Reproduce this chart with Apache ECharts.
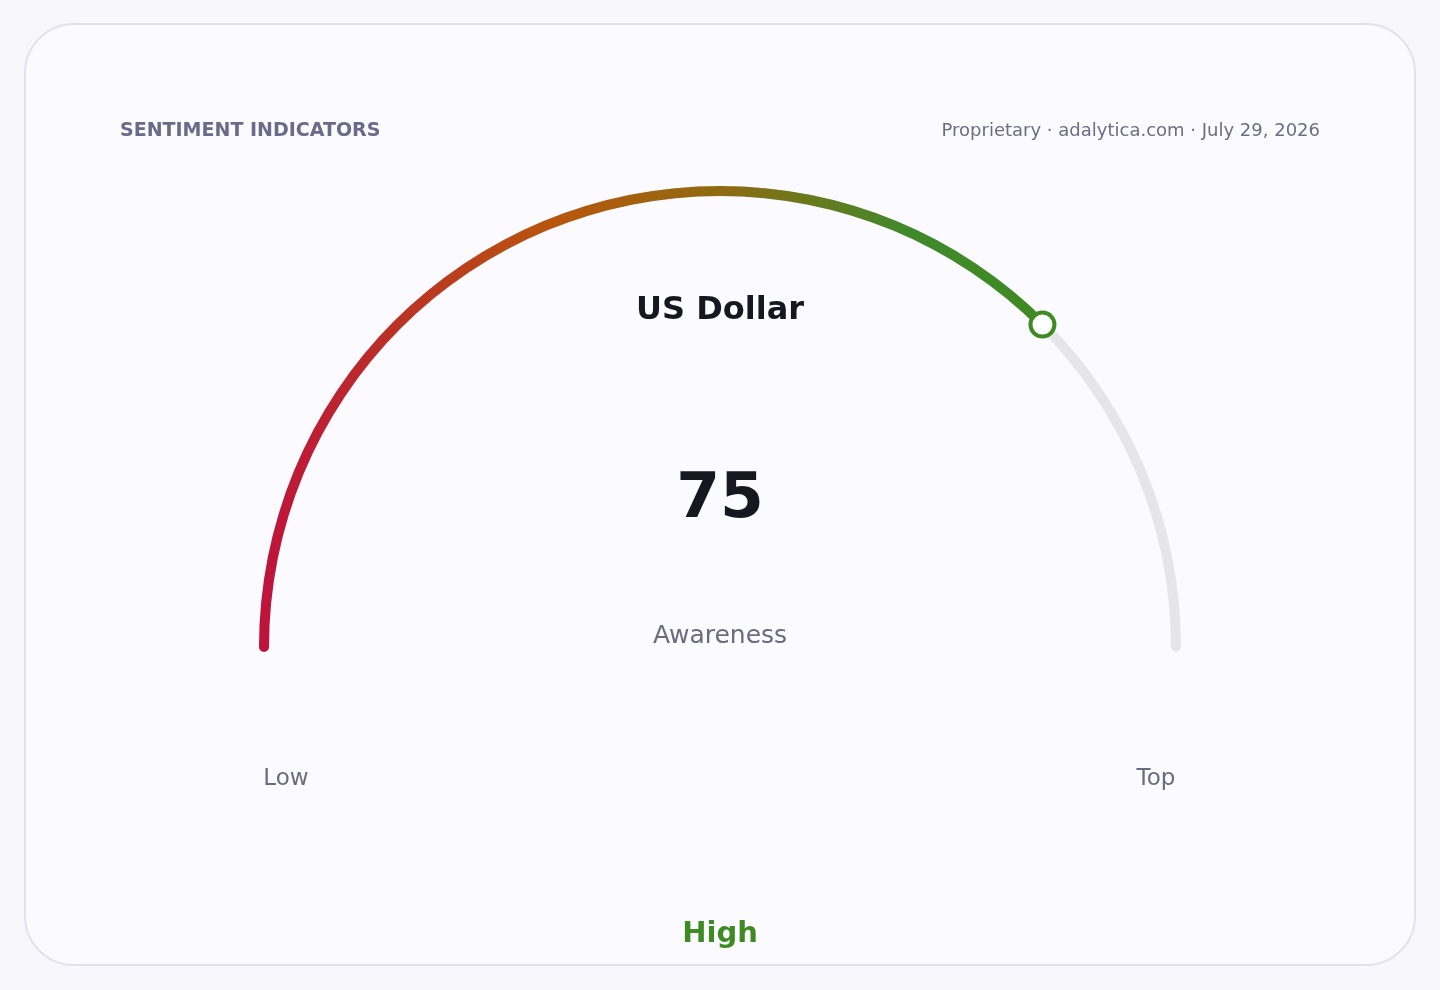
<!DOCTYPE html>
<html>
<head>
<meta charset="utf-8">
<script src="https://cdn.jsdelivr.net/npm/echarts@6/dist/echarts.min.js"></script>
<style>
  html, body { margin: 0; padding: 0; width: 1440px; height: 990px; background: #f7f7fc; overflow: hidden; }
  #card { position: absolute; left: 24px; top: 23px; width: 1388px; height: 939px; border: 2px solid #e2e2ef; border-radius: 50px; background: #fafaff; }
  #chart { position: absolute; left: 0; top: 0; width: 1440px; height: 990px; }
</style>
</head>
<body>
<div id="card"></div>
<div id="chart"></div>
<script>
const headerLeft = 'SENTIMENT INDICATORS';
const headerRight = 'Proprietary · adalytica.com · July 29, 2026';
const assetName = 'US Dollar';
const metricName = 'Awareness';
const metricValue = 75;
const scaleMin = 0;
const scaleMax = 100;
const endLabels = ['Low', 'Top'];
const verdict = 'High';

const FONT = '"DejaVu Sans", sans-serif';
const GREEN = '#3f8a22';
const cx = 720, cy = 647, R = 461, W = 10;

const chart = echarts.init(document.getElementById('chart'), null, { renderer: 'canvas' });

const grad = new echarts.graphic.LinearGradient(259, 0, 1047, 0, [
  { offset: 0, color: '#be123c' },
  { offset: 0.38, color: '#b8570c' },
  { offset: 0.6, color: '#8b6c12' },
  { offset: 0.82, color: '#40892a' },
  { offset: 1, color: GREEN }
], true);

const baseGauge = {
  type: 'gauge',
  center: [cx, cy],
  radius: R,
  startAngle: 180,
  endAngle: 0,
  min: scaleMin,
  max: scaleMax,
  splitLine: { show: false },
  axisTick: { show: false },
  axisLabel: { show: false },
  anchor: { show: false }
};

chart.setOption({
  backgroundColor: 'transparent',
  animation: false,
  graphic: [
    { type: 'text', left: 120, top: 122, style: { text: headerLeft, font: 'bold 19px ' + FONT, fill: '#6b6a88' } },
    { type: 'text', right: 120, top: 122, style: { text: headerRight, font: '18px ' + FONT, fill: '#6d6d85' } },
    { type: 'text', x: cx, y: 311, style: { text: assetName, font: 'bold 32px ' + FONT, fill: '#17171f', align: 'center', verticalAlign: 'middle' } },
    { type: 'text', x: 286, y: 779, style: { text: endLabels[0], font: '23px ' + FONT, fill: '#6b6b80', align: 'center', verticalAlign: 'middle' } },
    { type: 'text', x: 1156, y: 779, style: { text: endLabels[1], font: '23px ' + FONT, fill: '#6b6b80', align: 'center', verticalAlign: 'middle' } },
    { type: 'text', x: cx, y: 934, style: { text: verdict, font: 'bold 29px ' + FONT, fill: GREEN, align: 'center', verticalAlign: 'middle' } }
  ],
  series: [
    Object.assign({}, baseGauge, {
      z: 2,
      axisLine: { roundCap: true, lineStyle: { width: W, color: [[1, '#e6e6ea']] } },
      progress: { show: true, width: W, roundCap: true, itemStyle: { color: grad } },
      pointer: { show: false },
      title: {
        show: true,
        offsetCenter: [0, -11],
        fontFamily: FONT,
        fontSize: 25,
        color: '#6b6b80'
      },
      detail: {
        show: true,
        offsetCenter: [0, -146],
        fontFamily: FONT,
        fontSize: 63,
        fontWeight: 'bold',
        color: '#17171f',
        formatter: '{value}'
      },
      data: [{ value: metricValue, name: metricName }]
    }),
    Object.assign({}, baseGauge, {
      z: 5,
      axisLine: { show: false },
      progress: { show: false },
      pointer: {
        show: true,
        icon: 'circle',
        width: 24,
        length: 24,
        offsetCenter: [0, -(R - W / 2 - 12)],
        itemStyle: { color: '#ffffff', borderColor: GREEN, borderWidth: 4 }
      },
      title: { show: false },
      detail: { show: false },
      data: [{ value: metricValue }]
    })
  ]
});
</script>
</body>
</html>
